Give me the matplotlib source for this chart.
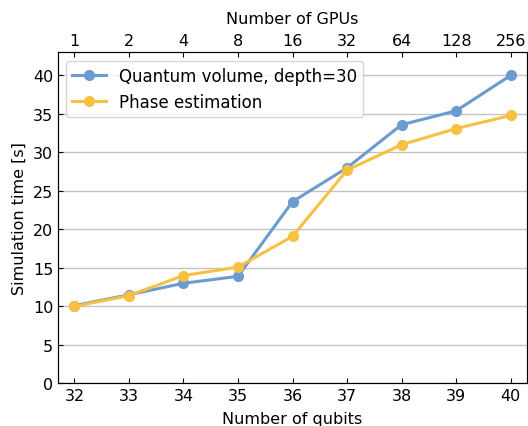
import numpy as np
import matplotlib.pyplot as plt

qubits = [32, 33, 34, 35, 36, 37, 38, 39, 40]
gpus = ['1', '2', '4', '8', '16', '32', '64', '128', '256']
qv_time = [10.1, 11.5, 13.0, 13.9, 23.6, 28.0, 33.6, 35.4, 40.0]
pe_time = [10.0, 11.4, 14.0, 15.1, 19.1, 27.7, 31.0, 33.1, 34.8]

plt.rcParams['font.size'] = 11.5

fig, ax = plt.subplots(figsize=(5.28, 4.27), dpi=100)
ax.plot(qubits, qv_time, '-o', color='#6a9bd1', lw=2.2, ms=7, label='Quantum volume, depth=30')
ax.plot(qubits, pe_time, '-o', color='#f6c142', lw=2.2, ms=7, label='Phase estimation')

ax.set_xlim(31.7, 40.3)
ax.set_ylim(0, 43)
ax.set_xticks(qubits)
ax.set_yticks(np.arange(0, 45, 5))
ax.yaxis.grid(True, color='#c4c4c4', lw=1)
ax.set_axisbelow(True)
ax.tick_params(direction='in')
ax.set_xlabel('Number of qubits', labelpad=6)
ax.set_ylabel('Simulation time [s]')

top = ax.twiny()
top.set_xlim(ax.get_xlim())
top.set_xticks(qubits)
top.set_xticklabels(gpus)
top.tick_params(direction='in')
top.set_xlabel('Number of GPUs', labelpad=7)

ax.legend(loc='upper left', fontsize=12, handlelength=2, borderaxespad=0.5,
          borderpad=0.35)
fig.subplots_adjust(left=0.11, right=0.998, top=0.875, bottom=0.1)
fig.savefig('out.png')
